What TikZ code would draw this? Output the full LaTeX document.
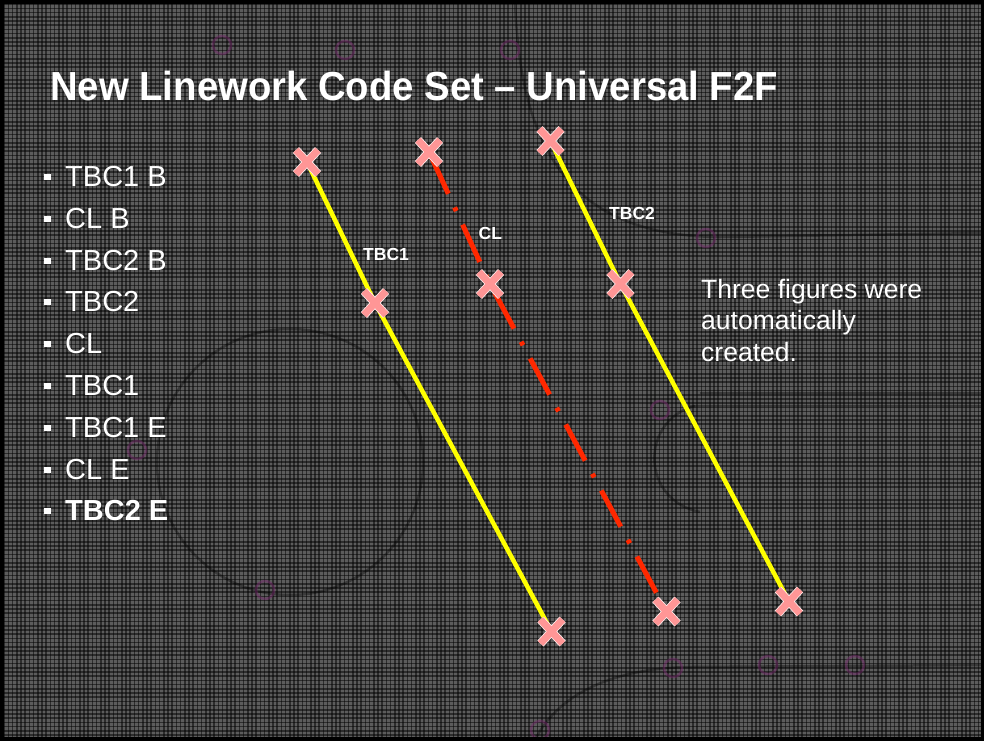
\documentclass[tikz,border=0pt]{standalone}
\usepackage{fontspec}
\setmainfont{Liberation Sans}
\definecolor{bggray}{RGB}{92,92,92}
\definecolor{xpink}{RGB}{255,150,150}
\definecolor{lyellow}{RGB}{255,255,0}
\definecolor{clred}{RGB}{255,40,0}
\definecolor{faintmag}{RGB}{120,40,110}
\begin{document}
\begin{tikzpicture}[x=1pt,y=-1pt,
  gridline/.style={black,opacity=0.5,line width=1.5pt},
  faint/.style={black,opacity=0.35,line width=2.5pt},
  fmag/.style={faintmag,opacity=0.45,line width=2.5pt},
  tbcline/.style={lyellow,line width=4.5pt},
  clline/.style={clred,line width=5pt,dash pattern=on 41pt off 15pt on 4pt off 15pt,dash phase=70pt},
  xmk/.style={xpink,line width=7pt},
  xmkedge/.style={white!85!xpink,line width=8.5pt},
  xm/.pic={\draw[xmkedge] (-11,-12)--(11,12) (-11,12)--(11,-12);
           \draw[xmk] (-11,-12)--(11,12) (-11,12)--(11,-12);},
  txt/.style={white,anchor=base west,inner sep=0pt},
  title/.style={txt,font=\bfseries\fontsize{38.3}{40}\selectfont},
  item/.style={txt,font=\fontsize{29}{32}\selectfont},
  lbl/.style={txt,font=\bfseries\fontsize{17.5}{20}\selectfont},
  note/.style={txt,font=\fontsize{26.5}{31.5}\selectfont},
  bul/.style={white}
]
\useasboundingbox (0,0) rectangle (984,740);
% background
\fill[bggray] (0,0) rectangle (984,740);
\foreach \i in {0,4.2,...,984} \draw[gridline] (\i,0) -- (\i,740);
\foreach \j in {0,4.2,...,740} \draw[gridline] (0,\j) -- (984,\j);
% faint background drawing
\draw[faint] (290,462) circle[radius=133];
\draw[faint] (515,0) .. controls (520,150) and (570,236) .. (720,237) -- (984,233);
\draw[faint] (700,393) -- (984,393);
\draw[faint] (690,406) -- (984,406);
\draw[faint] (695,406) .. controls (640,420) and (640,500) .. (700,512);
\draw[faint] (535,740) .. controls (560,690) and (620,668) .. (690,667) -- (984,665);
\foreach \c in {(673,668),(768,665),(706,238),(137,450),(345,50),(510,50),(222,45),(660,410),(265,590),(540,730),(855,665)}
  \draw[fmag] \c circle[radius=9];
% frame
\draw[black,line width=7pt] (0,0) rectangle (984,740);
% title
\node[title,yscale=1.06] (ttl) at (50,100) {New Linework Code Set – Universal F2F};
% bullet list
\foreach \t/\y [count=\k] in {TBC1 B/186,CL B/228,TBC2 B/270,TBC2/311,CL/353,TBC1/395,TBC1 E/437,CL E/479}{
  \fill[bul] (44,\y-12.5) rectangle (50.5,\y-6);
  \node[item] (it\k) at (65,\y) {\t};
}
\fill[bul] (44,520-12.5) rectangle (50.5,520-6);
\node[item,font=\bfseries\fontsize{29}{32}\selectfont] (it9) at (65,520) {TBC2 E};
% marks
\coordinate (t1a) at (307,162);
\coordinate (t1b) at (375,303);
\coordinate (t1c) at (551.5,631.5);
\coordinate (cla) at (429,152);
\coordinate (clb) at (490,284);
\coordinate (clc) at (666.5,611.5);
\coordinate (t2a) at (550.5,141);
\coordinate (t2b) at (620.5,284);
\coordinate (t2c) at (789,601.5);
% lines
\draw[tbcline] (t1a) -- (t1b) -- (t1c);
\draw[tbcline] (t2a) -- (t2b) -- (t2c);
\draw[clline] (cla) -- (clb) -- (clc);
\foreach \p in {t1a,t1b,t1c,cla,clb,clc,t2a,t2b,t2c} \path (\p) pic {xm};
% labels
\node[lbl] (l1) at (363,260.5) {TBC1};
\node[lbl] (l2) at (478.5,239.5) {CL};
\node[lbl] (l3) at (609,219.5) {TBC2};
\node[note] (n1) at (701,298) {Three figures were};
\node[note] (n2) at (701,329.5) {automatically};
\node[note] (n3) at (701,361) {created.};
\end{tikzpicture}
\end{document}
